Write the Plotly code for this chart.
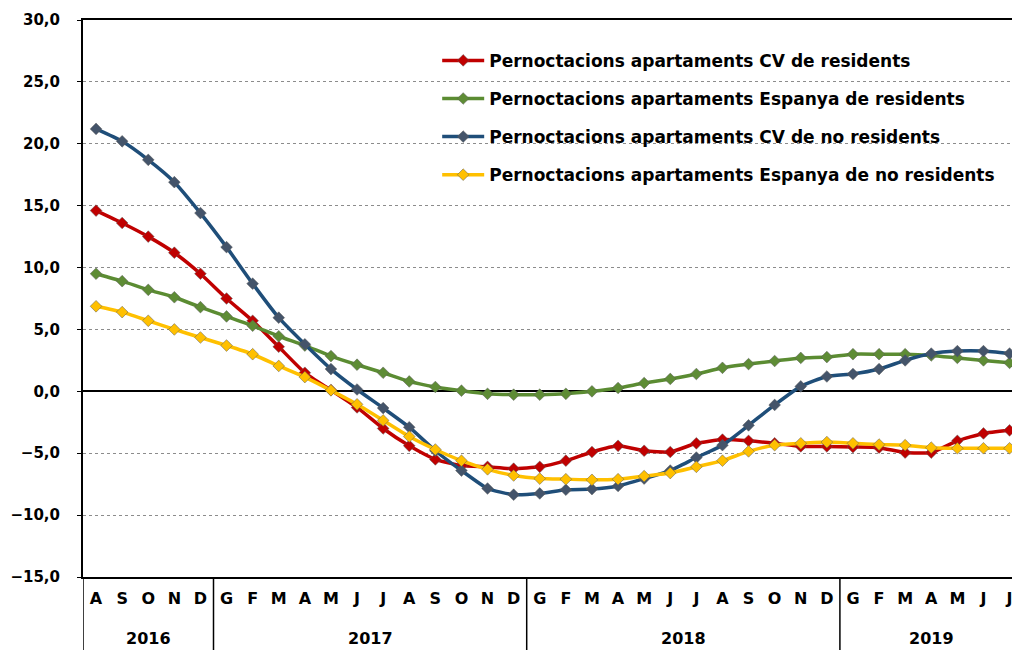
import plotly.graph_objs as go

# month initials (Catalan) and years for each point, Aug 2016 - Jul 2019
months = ["A", "S", "O", "N", "D",
          "G", "F", "M", "A", "M", "J", "J", "A", "S", "O", "N", "D",
          "G", "F", "M", "A", "M", "J", "J", "A", "S", "O", "N", "D",
          "G", "F", "M", "A", "M", "J", "J"]
years = ["2016"] * 5 + ["2017"] * 12 + ["2018"] * 12 + ["2019"] * 7

cv_res = [14.6, 13.6, 12.5, 11.2, 9.5,
          7.5, 5.7, 3.6, 1.5, 0.1, -1.3, -3.0, -4.4, -5.5, -6.0, -6.1, -6.25,
          -6.1, -5.6, -4.9, -4.4, -4.8, -4.9, -4.2, -3.9, -4.0, -4.2, -4.45, -4.45,
          -4.5, -4.55, -4.95, -4.95, -4.0, -3.4, -3.15]
esp_res = [9.5, 8.9, 8.2, 7.6, 6.8,
           6.05, 5.3, 4.45, 3.7, 2.85, 2.15, 1.5, 0.8, 0.35, 0.05, -0.2, -0.27,
           -0.27, -0.2, 0.0, 0.27, 0.67, 1.0, 1.4, 1.9, 2.2, 2.45, 2.7, 2.77,
           3.0, 3.0, 3.0, 2.9, 2.7, 2.5, 2.3]
cv_nores = [21.2, 20.2, 18.7, 16.9, 14.4,
            11.65, 8.7, 5.95, 3.8, 1.8, 0.15, -1.35, -2.9, -4.8, -6.4, -7.85, -8.35,
            -8.25, -7.95, -7.9, -7.65, -7.05, -6.4, -5.35, -4.35, -2.75, -1.1, 0.4, 1.2,
            1.4, 1.8, 2.5, 3.05, 3.25, 3.25, 3.05]
esp_nores = [6.87, 6.4, 5.7, 5.0, 4.35,
             3.7, 3.0, 2.05, 1.15, 0.08, -1.05, -2.35, -3.65, -4.7, -5.6, -6.3, -6.8,
             -7.05, -7.1, -7.15, -7.1, -6.85, -6.6, -6.1, -5.6, -4.85, -4.35, -4.2, -4.1,
             -4.2, -4.3, -4.35, -4.55, -4.6, -4.6, -4.6]

names = ["Pernoctacions apartaments CV de residents",
         "Pernoctacions apartaments Espanya de residents",
         "Pernoctacions apartaments CV de no residents",
         "Pernoctacions apartaments Espanya de no residents"]
line_colors = ["#C00000", "#5B8C32", "#1F4E79", "#FFC000"]
marker_colors = ["#C00000", "#5E8C35", "#44546A", "#FFC000"]

# one category per month: "2017-J10", "2017-J11" ...
keys = ["%s-%s%d" % (y, m, i) for i, (y, m) in enumerate(zip(years, months))]
year_names = ["2016", "2017", "2018", "2019"]

bold = dict(family="DejaVu Sans", size=15, color="black", weight="bold")

fig = go.Figure()
for i, serie in enumerate([cv_res, esp_res, cv_nores, esp_nores]):
    fig.add_trace(go.Scatter(
        x=keys,
        y=serie,
        mode="lines+markers",
        name=names[i],
        legendgroup="g%d" % i,
        line=dict(color=line_colors[i], width=3.5, shape="spline", smoothing=0.5),
        marker=dict(symbol="diamond", size=9, color=marker_colors[i],
                    line=dict(color="rgba(90,90,90,0.5)", width=1)),
    ))

# year groups under the month row: separators and centred labels
shapes = []
annotations = []
start = 0
for yr in year_names:
    n = years.count(yr)
    shapes.append(dict(type="line", xref="x", yref="paper",
                       x0=start - 0.5, x1=start - 0.5, y0=0, y1=-0.14,
                       line=dict(color="black", width=1.5)))
    annotations.append(dict(text=yr, xref="x", yref="paper",
                            x=start + (n - 1) / 2, y=-0.11, yanchor="middle",
                            showarrow=False, font=dict(bold, size=16)))
    start += n

# the page body adds an 8px margin, so the figure is 8px smaller each way
fig.update_layout(
    width=1012, height=642,
    margin=dict(l=75, r=0, t=12, b=73),
    plot_bgcolor="white", paper_bgcolor="white",
    separators=",.",
    showlegend=True,
    legend=dict(x=0.378, y=0.959, xanchor="left", yanchor="top",
                bgcolor="rgba(0,0,0,0)", font=dict(bold, size=17),
                tracegroupgap=13, itemwidth=42),
    shapes=shapes,
    annotations=annotations,
    xaxis=dict(
        type="category",
        range=[-0.5, 35.4],
        tickvals=keys, ticktext=months,
        showline=True, linecolor="black", linewidth=2, mirror=True,
        showgrid=False, ticks="", automargin=False,
        ticklabelstandoff=6,
        tickfont=dict(bold, size=16),
    ),
    yaxis=dict(
        range=[-15, 30], tickvals=list(range(-15, 31, 5)), tickformat=".1f",
        showline=True, linecolor="black", linewidth=2,
        ticks="outside", ticklen=4, tickcolor="black",
        ticklabelstandoff=14, automargin=False,
        showgrid=True, gridcolor="#8c8c8c", griddash="dot", gridwidth=1,
        zeroline=True, zerolinecolor="black", zerolinewidth=1.5,
        tickfont=bold,
    ),
)

fig.write_html("out.html")
